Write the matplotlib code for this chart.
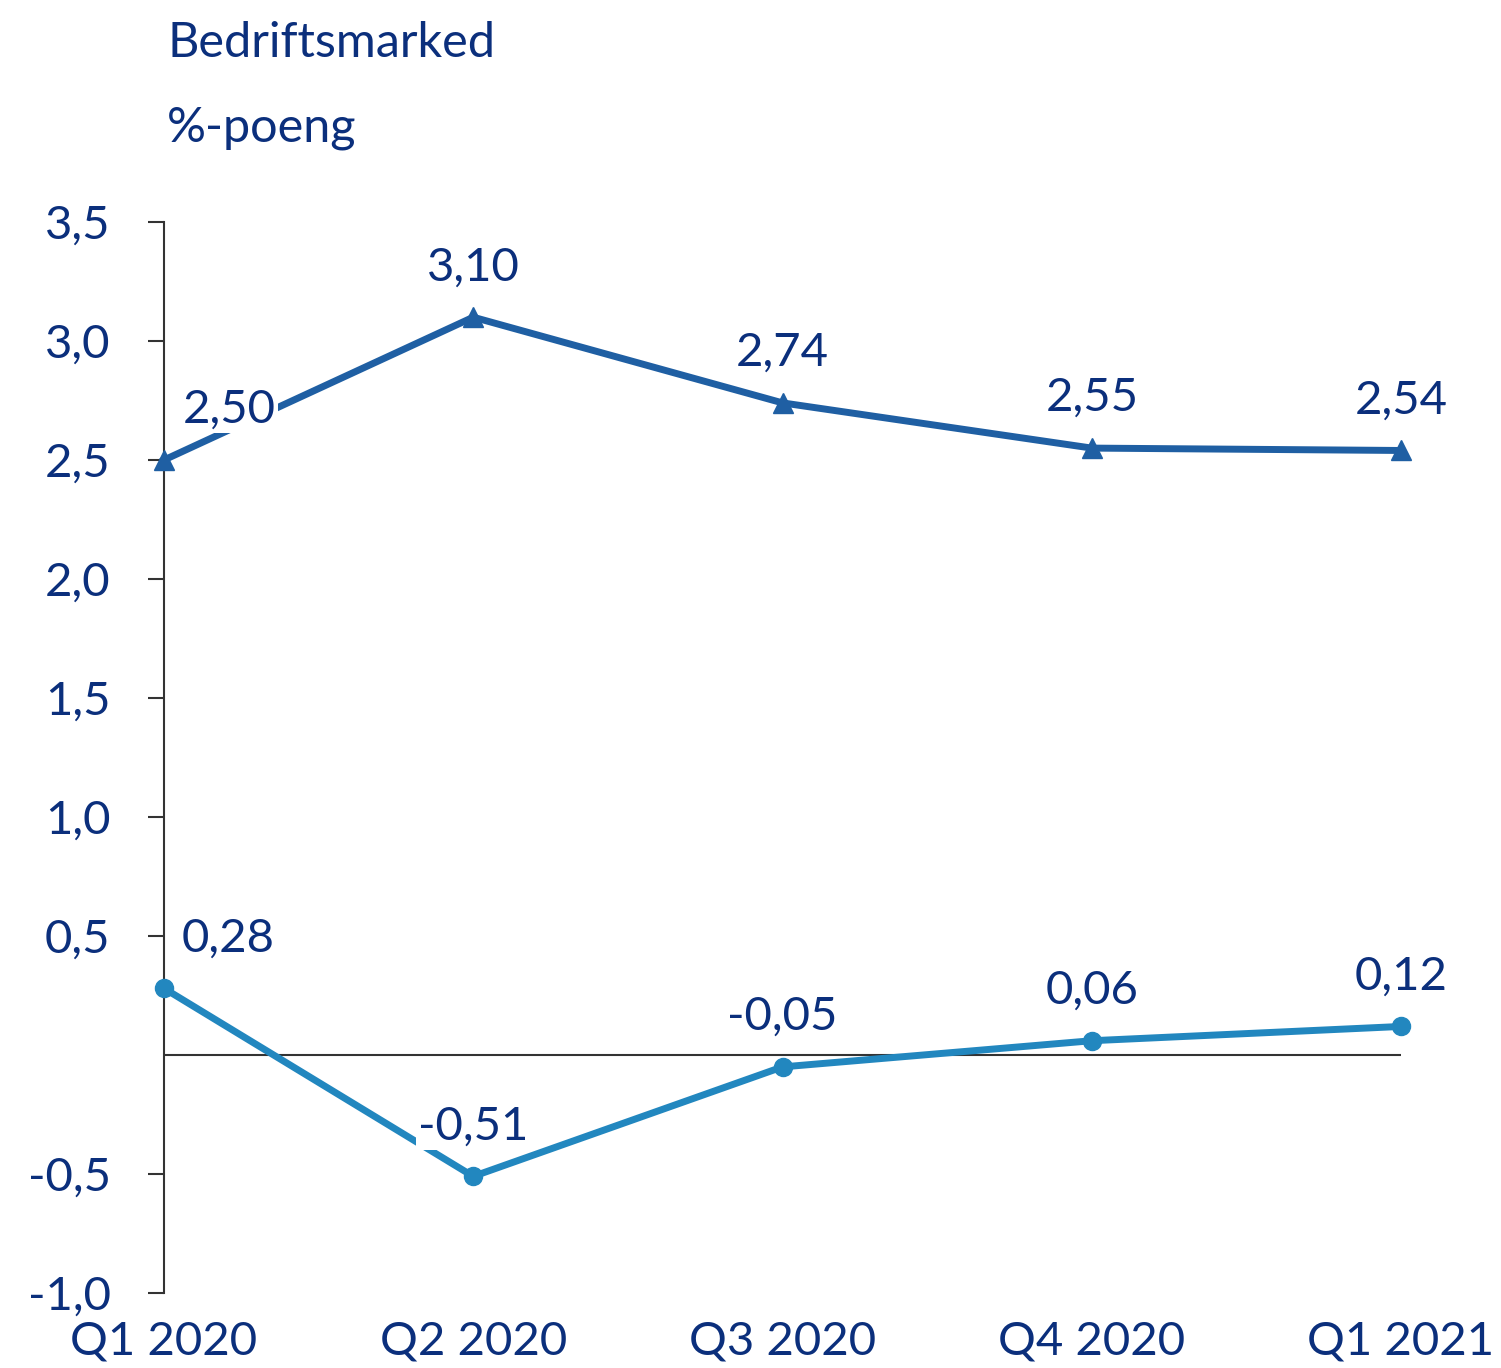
import matplotlib.pyplot as plt
import numpy as np

# data
quarters = ["Q1 2020", "Q2 2020", "Q3 2020", "Q4 2020", "Q1 2021"]
series_top = [2.50, 3.10, 2.74, 2.55, 2.54]
series_bottom = [0.28, -0.51, -0.05, 0.06, 0.12]
y_ticks = [-1.0, -0.5, 0.0, 0.5, 1.0, 1.5, 2.0, 2.5, 3.0, 3.5]

navy = "#0b2f7c"
dark_blue = "#1f5fa3"
light_blue = "#2287bf"

plt.rcParams["font.family"] = ["Lato", "DejaVu Sans"]

fig = plt.figure(figsize=(15.01, 13.68), dpi=100)
ax = fig.add_axes([164 / 1501, 75 / 1368, (1401 - 164) / 1501, (1293 - 222) / 1368])

x = np.arange(len(quarters))

ax.axhline(0, color="#333333", lw=1.5, zorder=1)

ax.plot(x, series_top, color=dark_blue, lw=5, marker="^", ms=15,
        clip_on=False, zorder=3)
ax.plot(x, series_bottom, color=light_blue, lw=5, marker="o", ms=13,
        clip_on=False, zorder=3)

def fmt(v):
    return f"{v:.2f}".replace(".", ",")

fs = 34
for i, v in enumerate(series_top):
    dx = 47 if i == 0 else 0
    ax.annotate(fmt(v), (x[i], v), xytext=(dx, 36), textcoords="offset points",
                ha="center", va="center", fontsize=fs, color=navy, zorder=4,
                bbox=dict(boxstyle="square,pad=0.05", fc="white", ec="none"))
for i, v in enumerate(series_bottom):
    dx = 46 if i == 0 else 0
    ax.annotate(fmt(v), (x[i], v), xytext=(dx, 36), textcoords="offset points",
                ha="center", va="center", fontsize=fs, color=navy, zorder=4,
                bbox=dict(boxstyle="square,pad=0.05", fc="white", ec="none"))

ax.set_xlim(0, 4)
ax.set_ylim(-1.0, 3.5)
ax.set_yticks(y_ticks)
ax.set_yticklabels([f"{t:.1f}".replace(".", ",") if t != 0 else "" for t in y_ticks])
ax.set_xticks(x)
ax.set_xticklabels(quarters)

for s in ["top", "right", "bottom"]:
    ax.spines[s].set_visible(False)
ax.spines["left"].set_color("#333333")
ax.spines["left"].set_linewidth(1.5)

ax.tick_params(axis="y", direction="out", length=11.5, width=1.5, color="#333333",
               labelsize=fs, labelcolor=navy, pad=27)
ax.tick_params(axis="x", length=0, labelsize=fs, labelcolor=navy, pad=20)

# no tick mark at zero in the reference
for t, v in zip(ax.yaxis.get_major_ticks(), y_ticks):
    if v == 0:
        t.tick1line.set_visible(False)

fig.text(167 / 1501, 1 - 43 / 1368, "Bedriftsmarked", fontsize=35, color=navy,
         ha="left", va="center")
fig.text(167 / 1501, 1 - 128 / 1368, "%-poeng", fontsize=35, color=navy,
         ha="left", va="center")

fig.savefig("out.png", dpi=100)
